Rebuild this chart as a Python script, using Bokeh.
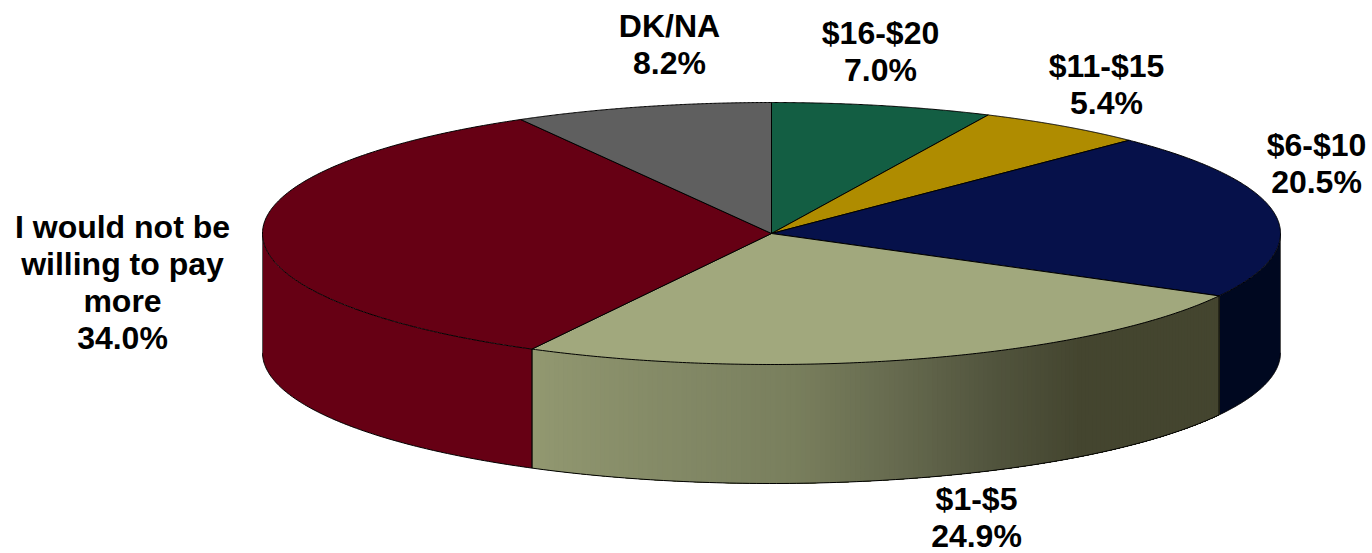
import numpy as np
from bokeh.plotting import figure
from bokeh.models import Range1d
from bokeh.core.properties import value
from bokeh.embed import file_html
from bokeh.resources import INLINE

# Data, clockwise from twelve o'clock
categories = ["$16-$20", "$11-$15", "$6-$10", "$1-$5", "I would not be willing to pay more", "DK/NA"]
shares = [7.0, 5.4, 20.5, 24.9, 34.0, 8.2]

# Styling
top_colors = ["#135E43", "#AF8C00", "#06114A", "#A1A87D", "#660014", "#5F5F5F"]
side_colors = ["#0C3D2B", "#725B00", "#000820", None, "#660014", "#3E3E3E"]
grad_stops_x = [532, 640, 735, 800, 900, 1000, 1080, 1219]
grad_stops_rgb = [(146, 152, 112), (134, 140, 104), (126, 132, 98), (120, 126, 92),
                  (101, 105, 78), (80, 83, 60), (68, 69, 47), (68, 69, 47)]

# Layout (page pixels)
CX, CY, RX, RY, DEPTH = 771.0, 233.0, 509.0, 131.0, 119.0
LABEL_LINES = [["$16-$20"], ["$11-$15"], ["$6-$10"], ["$1-$5"], ["I would not be", "willing to pay", "more"], ["DK/NA"]]
LABEL_X = [880, 1106, 1316, 976, 122, 669]
LABEL_Y = [32, 65, 144, 498, 226, 25]
LINE_H = 37

p = figure(width=1372, height=553, output_backend="svg", toolbar_location=None,
           x_range=Range1d(0, 1372), y_range=Range1d(553, 0), min_border=0,
           x_axis_type="linear", background_fill_color="white", border_fill_color="white")
p.axis.visible = False
p.grid.visible = False
p.outline_line_color = None


def ex(t):
    return CX + RX * np.sin(t)


def ey(t, dy=0.0):
    return CY - RY * np.cos(t) + dy


def hexc(rgb):
    return "#%02X%02X%02X" % tuple(int(round(c)) for c in rgb)


edges = np.radians(np.concatenate([[0.0], np.cumsum(shares)]) * 360.0 / sum(shares))
front_a, front_b = np.pi / 2, 3 * np.pi / 2

# Side walls
for i in range(len(shares)):
    a, b = max(edges[i], front_a), min(edges[i + 1], front_b)
    if b <= a:
        continue
    if side_colors[i] is None:
        # Gradient wall: strips are painted from the far end back, each reaching
        # from the wall's start to its own edge, so no seams show between them
        ts = np.linspace(a, b, 161)
        xs, ys, cols = [], [], []
        for k in range(len(ts) - 1, 0, -1):
            seg = np.linspace(ts[0], ts[k], 60)
            xs.append(list(ex(seg)) + list(ex(seg[::-1])))
            ys.append(list(ey(seg)) + list(ey(seg[::-1], DEPTH)))
            xm = ex((ts[k - 1] + ts[k]) / 2)
            rgb = [np.interp(xm, grad_stops_x, [s[c] for s in grad_stops_rgb]) for c in range(3)]
            cols.append(hexc(rgb))
        p.patches(xs, ys, fill_color=cols, line_color=None)
    else:
        t = np.linspace(a, b, 120)
        p.patch(list(ex(t)) + list(ex(t[::-1])), list(ey(t)) + list(ey(t[::-1], DEPTH)),
                fill_color=side_colors[i], line_color=None)
    # Wall outline: bottom arc and vertical edges
    t = np.linspace(a, b, 120)
    p.line(ex(t), ey(t, DEPTH), line_color="#000000", line_width=1)
    for tt in (a, b):
        edge_col = "#555555" if tt in (front_a, front_b) else "#000000"
        p.line([ex(tt), ex(tt)], [ey(tt), ey(tt, DEPTH)], line_color=edge_col, line_width=1)

# Top faces
for i in range(len(shares)):
    t = np.linspace(edges[i], edges[i + 1], 200)
    p.patch([CX] + list(ex(t)), [CY] + list(ey(t)), fill_color=top_colors[i],
            line_color="#000000", line_width=1, line_join="round")

# Labels
for i, lines in enumerate(LABEL_LINES):
    rows = lines + [f"{shares[i]:.1f}%"]
    p.text([LABEL_X[i]] * len(rows), [LABEL_Y[i] + k * LINE_H for k in range(len(rows))], text=rows,
           text_font=value("Liberation Sans"), text_font_style="bold", text_font_size="32px",
           text_color="#000000", text_align="center", text_baseline="middle")

open("out.html", "w").write(file_html(p, INLINE))
